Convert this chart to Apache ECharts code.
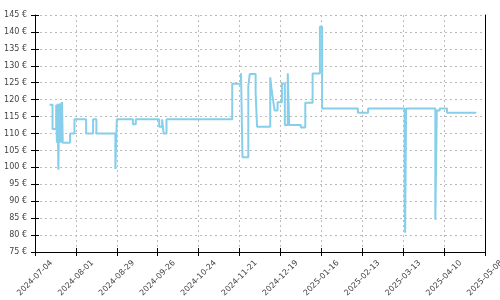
<!DOCTYPE html>
<html>
<head>
<meta charset="utf-8">
<script src="https://cdn.jsdelivr.net/npm/echarts@6/dist/echarts.min.js"></script>
<style>
  html, body { margin: 0; padding: 0; background: #fff; }
  #chart { width: 500px; height: 300px; }
</style>
</head>
<body>
<div id="chart"></div>
<script>
// price history (step line): date -> price from that date on
var dates = [
    '2024-07-14', '2024-07-16', '2024-07-18 12:00', '2024-07-19', '2024-07-19 12:00',
    '2024-07-20', '2024-07-20 12:00', '2024-07-21', '2024-07-21 12:00', '2024-07-22',
    '2024-07-22 12:00', '2024-07-23', '2024-07-28', '2024-07-31', '2024-08-08',
    '2024-08-12 18:00', '2024-08-15', '2024-08-28', '2024-08-29', '2024-09-09',
    '2024-09-11', '2024-09-27', '2024-09-29', '2024-09-30', '2024-10-02',
    '2024-11-16', '2024-11-22', '2024-11-23', '2024-11-27', '2024-11-28',
    '2024-12-02', '2024-12-03', '2024-12-12', '2024-12-13', '2024-12-14',
    '2024-12-15', '2024-12-17', '2024-12-20', '2024-12-22', '2024-12-24',
    '2024-12-25', '2025-01-02', '2025-01-05', '2025-01-10', '2025-01-15',
    '2025-01-16 12:00', '2025-02-10', '2025-02-17', '2025-03-14', '2025-03-14 08:00',
    '2025-03-15', '2025-04-04', '2025-04-05', '2025-04-07', '2025-04-12',
    '2025-05-02'
];
var prices = [
    118.5, 111.3, 118.5, 107.3, 118.8,
    99.3, 118.8, 107.3, 119.0, 107.3,
    119.3, 107.3, 110.0, 114.2, 110.0,
    114.2, 110.0, 99.5, 114.2, 112.7,
    114.2, 112.0, 114.2, 110.0, 114.2,
    124.7, 127.8, 103.0, 124.0, 127.6,
    122.0, 112.0, 126.6, 122.7, 119.8,
    116.8, 119.2, 124.8, 112.5, 127.8,
    112.5, 111.8, 119.1, 127.7, 141.5,
    117.4, 116.1, 117.4, 88.5, 80.7,
    117.4, 84.5, 116.8, 117.4, 116.1,
    116.1
];
var xStart = '2024-07-04';
var xEnd = '2025-05-08';
var yMin = 75, yMax = 145, yStep = 5;

var DAY = 86400000;

function toTs(s) {
    var p = s.split(' ');
    var d = p[0].split('-');
    var h = 0, m = 0;
    if (p[1]) {
        var t = p[1].split(':');
        h = +t[0]; m = +t[1];
    }
    return Date.UTC(+d[0], +d[1] - 1, +d[2], h, m);
}
function pad(n) { return n < 10 ? '0' + n : '' + n; }
function fmtDate(v) {
    var d = new Date(v);
    return d.getUTCFullYear() + '-' + pad(d.getUTCMonth() + 1) + '-' + pad(d.getUTCDate());
}

var seriesData = [];
for (var i = 0; i < dates.length; i++) {
    seriesData.push([toTs(dates[i]), prices[i]]);
}

var gridLine = { show: true, lineStyle: { color: '#bbbbbb', width: 1, type: [2, 3] } };
var labelFont = { fontFamily: 'DejaVu Sans', fontSize: 8, color: '#444' };

var myChart = echarts.init(document.getElementById('chart'));
myChart.setOption({
    animation: false,
    grid: { left: 35, right: 15, top: 15, bottom: 48, outerBoundsMode: 'none' },
    xAxis: [{
        type: 'value',
        min: toTs(xStart),
        max: toTs(xEnd),
        interval: 28 * DAY,
        axisLine: { show: true, lineStyle: { color: '#000', width: 1 } },
        axisTick: { show: true, length: 4, lineStyle: { color: '#000' } },
        // labels rotated about their centre, sitting under the tick
        axisLabel: Object.assign({
            rotate: 45, margin: 26, align: 'center', verticalAlign: 'middle',
            formatter: fmtDate, showMinLabel: true, showMaxLabel: true, hideOverlap: false
        }, labelFont),
        splitLine: gridLine
    }, {
        type: 'value',
        position: 'bottom',
        min: toTs(xStart),
        max: toTs(xEnd),
        interval: 28 * DAY,
        axisLine: { show: false },
        axisTick: { show: true, inside: true, length: 4, lineStyle: { color: '#000' } },
        axisLabel: { show: false },
        splitLine: { show: false }
    }],
    yAxis: [{
        type: 'value',
        min: yMin,
        max: yMax,
        interval: yStep,
        axisLine: { show: true, lineStyle: { color: '#000', width: 1 } },
        axisTick: { show: true, length: 4, lineStyle: { color: '#000' } },
        axisLabel: Object.assign({ margin: 8, formatter: '{value} €' }, labelFont),
        splitLine: gridLine
    }, {
        type: 'value',
        position: 'left',
        min: yMin,
        max: yMax,
        interval: yStep,
        axisLine: { show: false },
        axisTick: { show: true, inside: true, length: 4, lineStyle: { color: '#000' } },
        axisLabel: { show: false },
        splitLine: { show: false }
    }, {
        type: 'value',
        position: 'right',
        min: yMin,
        max: yMax,
        interval: yStep,
        axisLine: { show: true, lineStyle: { color: '#000', width: 1 } },
        axisTick: { show: false },
        axisLabel: { show: false },
        splitLine: { show: false }
    }],
    series: [{
        name: 'price',
        type: 'line',
        step: 'end',
        showSymbol: false,
        data: seriesData,
        lineStyle: { color: '#87ceeb', width: 2 },
        itemStyle: { color: '#87ceeb' }
    }]
});
</script>
</body>
</html>
